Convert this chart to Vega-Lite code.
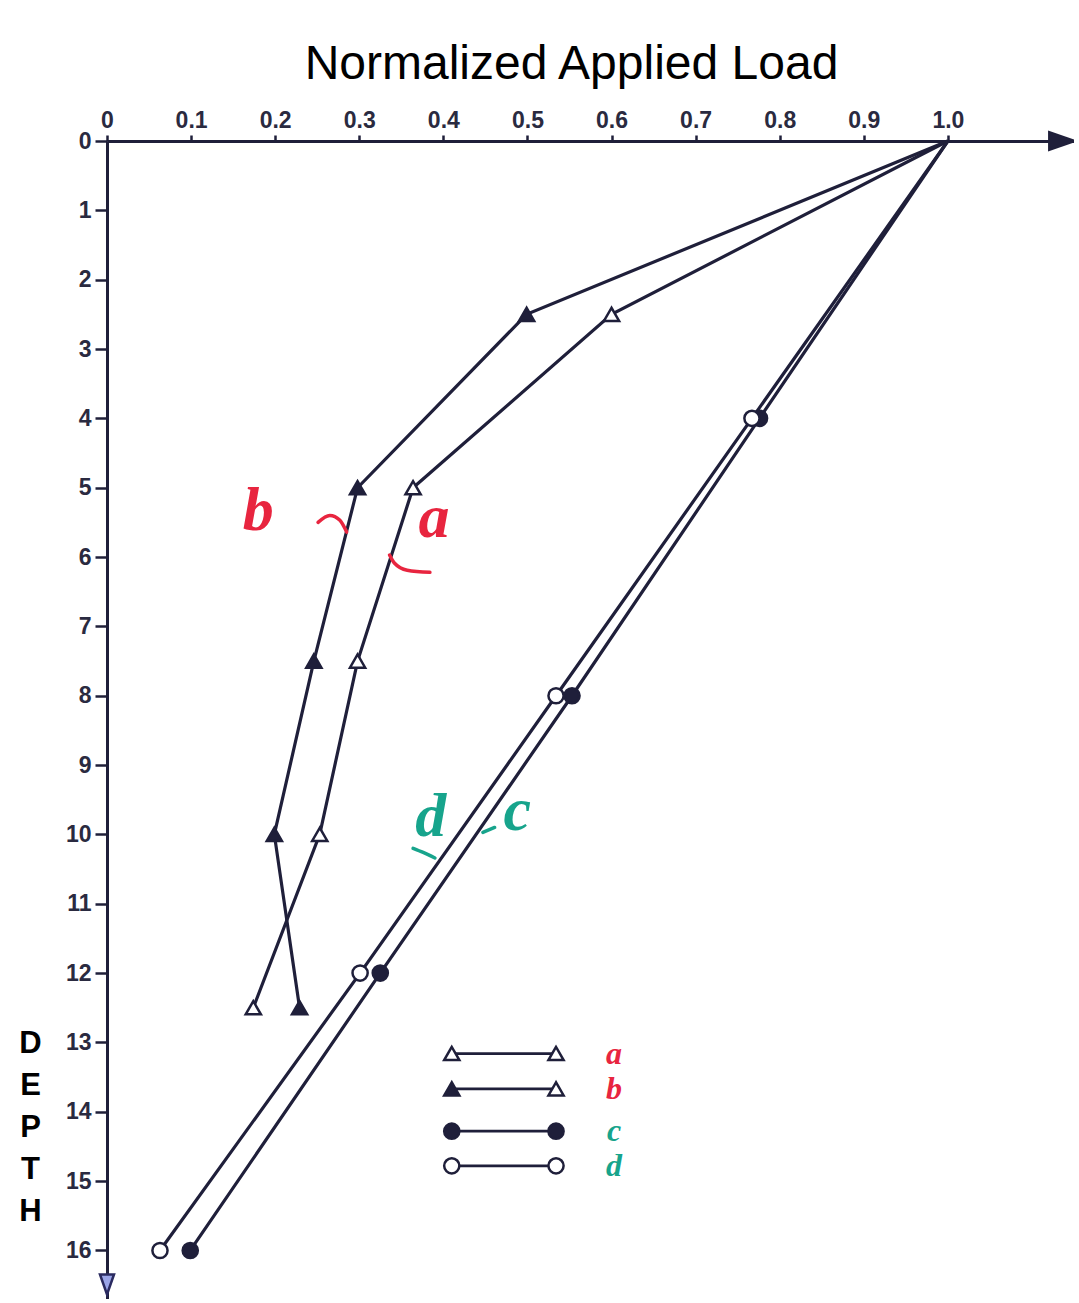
{
  "$schema": "https://vega.github.io/schema/vega-lite/v6.json",
  "autosize": {"type": "none"},
  "padding": {"left": 107, "top": 141, "right": 0, "bottom": 0},
  "width": 967,
  "height": 1158,
  "background": "white",
  "config": {"view": {"stroke": null}},
  "datasets": {
    "curves": [
      {"series": "a", "load": 1.0, "depth": 0},
      {"series": "a", "load": 0.600, "depth": 2.5},
      {"series": "a", "load": 0.364, "depth": 5},
      {"series": "a", "load": 0.298, "depth": 7.5},
      {"series": "a", "load": 0.253, "depth": 10},
      {"series": "a", "load": 0.174, "depth": 12.5},
      {"series": "b", "load": 1.0, "depth": 0},
      {"series": "b", "load": 0.499, "depth": 2.5},
      {"series": "b", "load": 0.298, "depth": 5},
      {"series": "b", "load": 0.246, "depth": 7.5},
      {"series": "b", "load": 0.199, "depth": 10},
      {"series": "b", "load": 0.229, "depth": 12.5},
      {"series": "c", "load": 1.0, "depth": 0},
      {"series": "c", "load": 0.776, "depth": 4},
      {"series": "c", "load": 0.553, "depth": 8},
      {"series": "c", "load": 0.325, "depth": 12},
      {"series": "c", "load": 0.099, "depth": 16},
      {"series": "d", "load": 1.0, "depth": 0},
      {"series": "d", "load": 0.767, "depth": 4},
      {"series": "d", "load": 0.534, "depth": 8},
      {"series": "d", "load": 0.301, "depth": 12},
      {"series": "d", "load": 0.063, "depth": 16}
    ],
    "keyrows": [
      {"series": "a", "depth": 13.16},
      {"series": "b", "depth": 13.67},
      {"series": "c", "depth": 14.28},
      {"series": "d", "depth": 14.78}
    ],
    "notes": [
      {"series": "b", "load": 0.180, "depth": 5.61},
      {"series": "a", "load": 0.389, "depth": 5.71},
      {"series": "d", "load": 0.385, "depth": 10.03},
      {"series": "c", "load": 0.488, "depth": 9.94}
    ],
    "strokes": [
      {"series": "b", "load": 0.251, "depth": 5.50},
      {"series": "b", "load": 0.265, "depth": 5.40},
      {"series": "b", "load": 0.277, "depth": 5.47},
      {"series": "b", "load": 0.285, "depth": 5.64},
      {"series": "a", "load": 0.336, "depth": 5.97},
      {"series": "a", "load": 0.342, "depth": 6.09},
      {"series": "a", "load": 0.357, "depth": 6.19},
      {"series": "a", "load": 0.384, "depth": 6.22},
      {"series": "d", "load": 0.364, "depth": 10.20},
      {"series": "d", "load": 0.376, "depth": 10.26},
      {"series": "d", "load": 0.390, "depth": 10.34},
      {"series": "c", "load": 0.447, "depth": 9.97},
      {"series": "c", "load": 0.461, "depth": 9.90}
    ]
  },
  "encoding": {
    "y": {
      "field": "depth",
      "type": "quantitative",
      "scale": {"domain": [0, 16.7], "nice": false, "zero": false, "reverse": true},
      "axis": {
        "orient": "left",
        "values": [0, 1, 2, 3, 4, 5, 6, 7, 8, 9, 10, 11, 12, 13, 14, 15, 16],
        "format": "d",
        "grid": false,
        "domainColor": "#1f1f3a",
        "domainWidth": 3,
        "tickColor": "#1f1f3a",
        "tickWidth": 2.5,
        "tickSize": 12,
        "labelFont": "Liberation Sans",
        "labelFontSize": 23,
        "labelFontWeight": "bold",
        "labelColor": "#2a2a40",
        "labelPadding": 4,
        "labelOverlap": false,
        "labelFlush": false,
        "title": ["D", "E", "P", "T", "H"],
        "titleAngle": 0,
        "titleFont": "Liberation Sans",
        "titleFontSize": 31,
        "titleFontWeight": "bold",
        "titleColor": "black",
        "titleLineHeight": 42,
        "titleX": -77,
        "titleY": 902,
        "titleAlign": "center",
        "titleBaseline": "middle"
      }
    }
  },
  "layer": [
    {
      "data": {"name": "curves"},
      "mark": {"type": "line", "color": "#1f1f3a", "strokeWidth": 3.2},
      "encoding": {
        "x": {
          "field": "load",
          "type": "quantitative",
          "scale": {"domain": [0, 1.15], "nice": false, "zero": false},
          "axis": {
            "orient": "top",
            "values": [0, 0.1, 0.2, 0.3, 0.4, 0.5, 0.6, 0.7, 0.8, 0.9, 1.0],
            "labelExpr": "datum.value == 0 ? '0' : format(datum.value, '.1f')",
            "grid": false,
            "domainColor": "#1f1f3a",
            "domainWidth": 3,
            "tickColor": "#1f1f3a",
            "tickWidth": 2.5,
            "tickSize": 6,
            "labelFont": "Liberation Sans",
            "labelFontSize": 23,
            "labelFontWeight": "bold",
            "labelColor": "#2a2a40",
            "labelPadding": 3,
            "labelFlush": false,
            "labelOverlap": false,
            "title": "Normalized Applied Load",
            "titleFont": "Liberation Sans",
            "titleFontSize": 48,
            "titleFontWeight": "normal",
            "titleColor": "black",
            "titleX": 464,
            "titleY": -63,
            "titleAlign": "center",
            "titleBaseline": "alphabetic"
          }
        },
        "detail": {"field": "series"},
        "order": {"field": "depth", "type": "quantitative"}
      }
    },
    {
      "data": {"name": "curves"},
      "transform": [{"filter": "datum.depth > 0"}],
      "mark": {"type": "point", "filled": true, "stroke": "#1f1f3a", "strokeWidth": 2.5, "opacity": 1, "size": 230},
      "encoding": {
        "x": {"field": "load", "type": "quantitative", "scale": {"domain": [0, 1.15], "nice": false, "zero": false}},
        "shape": {"field": "series", "type": "nominal", "scale": {"domain": ["a", "b", "c", "d"], "range": ["triangle-up", "triangle-up", "circle", "circle"]}, "legend": null},
        "fill": {"field": "series", "type": "nominal", "scale": {"domain": ["a", "b", "c", "d"], "range": ["white", "#1f1f3a", "#1f1f3a", "white"]}, "legend": null}
      }
    },
    {
      "data": {"name": "keyrows"},
      "mark": {"type": "rule", "color": "#1f1f3a", "strokeWidth": 2.8},
      "encoding": {
        "x": {"datum": 0.410, "type": "quantitative"},
        "x2": {"datum": 0.534}
      }
    },
    {
      "data": {"name": "keyrows"},
      "mark": {"type": "point", "filled": true, "stroke": "#1f1f3a", "strokeWidth": 2.5, "opacity": 1, "size": 230},
      "encoding": {
        "x": {"datum": 0.410, "type": "quantitative"},
        "shape": {"field": "series", "type": "nominal", "legend": null},
        "fill": {"field": "series", "type": "nominal", "legend": null}
      }
    },
    {
      "data": {"name": "keyrows"},
      "mark": {"type": "point", "filled": true, "stroke": "#1f1f3a", "strokeWidth": 2.5, "opacity": 1, "size": 230},
      "encoding": {
        "x": {"datum": 0.534, "type": "quantitative"},
        "shape": {"field": "series", "type": "nominal", "legend": null},
        "fill": {"field": "series", "type": "nominal", "legend": null, "condition": {"test": "datum.series == 'b'", "value": "white"}}
      }
    },
    {
      "data": {"name": "keyrows"},
      "mark": {"type": "text", "font": "Liberation Serif", "fontSize": 32, "fontWeight": "bold", "fontStyle": "italic", "align": "center", "baseline": "middle"},
      "encoding": {
        "x": {"datum": 0.603, "type": "quantitative"},
        "text": {"field": "series"},
        "color": {"field": "series", "type": "nominal", "scale": {"domain": ["a", "b", "c", "d"], "range": ["#e8253f", "#e8253f", "#17a48c", "#17a48c"]}, "legend": null}
      }
    },
    {
      "data": {"name": "notes"},
      "mark": {"type": "text", "font": "Liberation Serif", "fontSize": 62, "fontWeight": "bold", "fontStyle": "italic", "align": "center", "baseline": "alphabetic"},
      "encoding": {
        "x": {"field": "load", "type": "quantitative"},
        "text": {"field": "series"},
        "color": {"field": "series", "type": "nominal", "legend": null}
      }
    },
    {
      "data": {"name": "strokes"},
      "mark": {"type": "line", "strokeWidth": 3.5, "interpolate": "monotone", "strokeCap": "round"},
      "encoding": {
        "x": {"field": "load", "type": "quantitative"},
        "color": {"field": "series", "type": "nominal", "legend": null},
        "detail": {"field": "series"}
      }
    },
    {
      "data": {"values": [{"load": 1.137, "depth": 0}]},
      "mark": {"type": "point", "shape": "M-1,-0.7L1,0L-1,0.7Z", "size": 900, "filled": true, "color": "#1f1f3a", "opacity": 1},
      "encoding": {
        "x": {"field": "load", "type": "quantitative"}
      }
    },
    {
      "data": {"values": [{"load": 0, "depth": 16.49}]},
      "mark": {"type": "point", "shape": "M-0.7,-1L0.7,-1L0,1Z", "size": 400, "filled": true, "fill": "#9aa4e8", "stroke": "#2a2a60", "strokeWidth": 2.5, "opacity": 1},
      "encoding": {
        "x": {"field": "load", "type": "quantitative"}
      }
    }
  ]
}
